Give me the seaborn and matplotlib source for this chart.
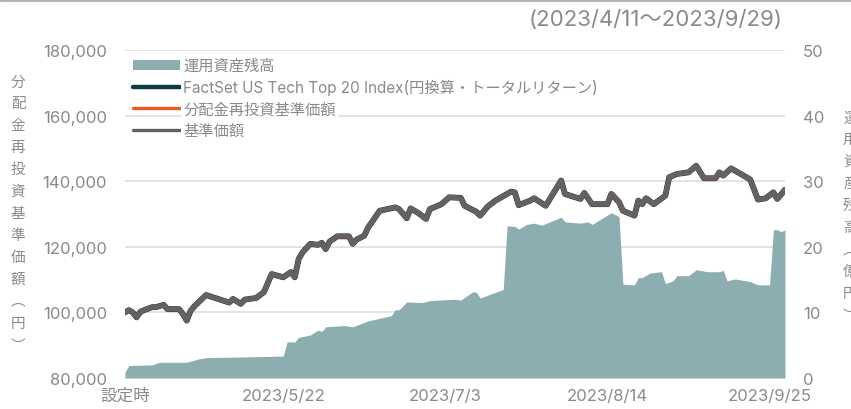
import pandas as pd
import matplotlib
matplotlib.use("Agg")
import matplotlib.pyplot as plt
from matplotlib.patches import Patch
from matplotlib.lines import Line2D
from matplotlib.ticker import FuncFormatter, MultipleLocator
import seaborn as sns

# ---- data ----
nav_dates = ["2023-04-11", "2023-04-12", "2023-04-13", "2023-04-14", "2023-04-15", "2023-04-16",
             "2023-04-18", "2023-04-19", "2023-04-21", "2023-04-22", "2023-04-25", "2023-04-26",
             "2023-04-27", "2023-04-28", "2023-04-29", "2023-05-02", "2023-05-08", "2023-05-09",
             "2023-05-11", "2023-05-12", "2023-05-15", "2023-05-17", "2023-05-19", "2023-05-22",
             "2023-05-24", "2023-05-25", "2023-05-26", "2023-05-27", "2023-05-29", "2023-05-31",
             "2023-06-01", "2023-06-02", "2023-06-03", "2023-06-05", "2023-06-08", "2023-06-09",
             "2023-06-10", "2023-06-12", "2023-06-13", "2023-06-16", "2023-06-20", "2023-06-21",
             "2023-06-23", "2023-06-24", "2023-06-26", "2023-06-28", "2023-06-29", "2023-07-02",
             "2023-07-04", "2023-07-07", "2023-07-08", "2023-07-11", "2023-07-12", "2023-07-14",
             "2023-07-16", "2023-07-20", "2023-07-21", "2023-07-22", "2023-07-25", "2023-07-26",
             "2023-07-29", "2023-08-02", "2023-08-03", "2023-08-07", "2023-08-08", "2023-08-10",
             "2023-08-14", "2023-08-15", "2023-08-17", "2023-08-18", "2023-08-21", "2023-08-22",
             "2023-08-23", "2023-08-24", "2023-08-26", "2023-08-29", "2023-08-30", "2023-09-01",
             "2023-09-04", "2023-09-06", "2023-09-08", "2023-09-11", "2023-09-12", "2023-09-13",
             "2023-09-15", "2023-09-18", "2023-09-20", "2023-09-22", "2023-09-24", "2023-09-26",
             "2023-09-27", "2023-09-29"]
nav = [100000, 100700, 100000, 98500, 100200, 100700,
       101600, 101600, 102300, 101000, 101000, 99500,
       97500, 100500, 101900, 105300, 103000, 104100,
       102600, 103900, 104400, 106200, 111700, 110700,
       112300, 110700, 116300, 118300, 120900, 120600,
       121200, 119300, 121600, 123200, 123200, 120900,
       122200, 123400, 125900, 131000, 132000, 131500,
       128700, 131700, 130300, 128500, 131500, 133000,
       135100, 134900, 132500, 130700, 129500, 132300,
       134100, 136800, 136600, 132700, 134100, 134800,
       132500, 140200, 136100, 134600, 136400, 133000,
       133000, 136100, 133600, 131000, 129500, 134100,
       133000, 134800, 133000, 135600, 141200, 142200,
       142700, 144700, 140900, 140900, 142700, 141700,
       143900, 141900, 140500, 134400, 134800, 136600,
       134600, 137400]
# no distributions yet, so reinvested NAV follows NAV; index overlaps it on screen
nav_reinvested = list(nav)
index_tr = list(nav)

aum_dates = ["2023-04-11", "2023-04-12", "2023-04-18", "2023-04-20", "2023-04-27", "2023-04-30",
             "2023-05-02", "2023-05-19", "2023-05-22", "2023-05-23", "2023-05-25", "2023-05-26",
             "2023-05-29", "2023-05-31", "2023-06-01", "2023-06-02", "2023-06-07", "2023-06-09",
             "2023-06-13", "2023-06-16", "2023-06-19", "2023-06-20", "2023-06-21", "2023-06-23",
             "2023-06-27", "2023-06-29", "2023-07-05", "2023-07-07", "2023-07-10", "2023-07-11",
             "2023-07-12", "2023-07-18", "2023-07-19", "2023-07-21", "2023-07-22", "2023-07-24",
             "2023-07-26", "2023-07-28", "2023-08-02", "2023-08-03", "2023-08-07", "2023-08-09",
             "2023-08-10", "2023-08-15", "2023-08-17", "2023-08-18", "2023-08-21", "2023-08-22",
             "2023-08-23", "2023-08-25", "2023-08-28", "2023-08-29", "2023-08-31", "2023-09-01",
             "2023-09-04", "2023-09-06", "2023-09-09", "2023-09-12", "2023-09-13", "2023-09-14",
             "2023-09-16", "2023-09-20", "2023-09-22", "2023-09-25", "2023-09-26", "2023-09-27",
             "2023-09-28", "2023-09-29"]
aum = [0.9, 1.9, 2.0, 2.4, 2.4, 2.9,
       3.1, 3.3, 3.35, 5.5, 5.5, 6.2,
       6.55, 7.3, 7.1, 7.8, 8.0, 7.8,
       8.7, 9.1, 9.5, 10.4, 10.4, 11.6,
       11.5, 11.8, 12.0, 11.9, 13.1, 13.1,
       12.2, 13.5, 23.2, 23.1, 22.7, 23.4,
       23.6, 23.3, 24.5, 23.8, 23.6, 23.8,
       23.4, 25.2, 24.6, 14.3, 14.2, 15.3,
       15.3, 16.0, 16.2, 14.4, 14.8, 15.6,
       15.6, 16.5, 16.2, 16.2, 16.4, 14.8,
       15.1, 14.7, 14.2, 14.2, 22.6, 22.6,
       22.3, 22.6]

tick_dates = ["2023-04-11", "2023-05-22", "2023-07-03", "2023-08-14", "2023-09-25"]
tick_labels = ["設定時", "2023/5/22", "2023/7/3", "2023/8/14", "2023/9/25"]

legend_labels = ["運用資産残高",
                 "FactSet US Tech Top 20 Index(円換算・トータルリターン)",
                 "分配金再投資基準価額",
                 "基準価額"]
period_text = "(2023/4/11～2023/9/29)"
left_label = "分配金再投資基準価額（円）"
right_label = "運用資産残高（億円）"

# ---- style ----
sns.set_style("white")
plt.rcParams["font.family"] = ["Inter", "Noto Sans CJK JP", "DejaVu Sans"]
text_col = "#8a8a8a"
area_col = "#8caeb0"
index_col = "#0d3b46"
reinv_col = "#f0582a"
nav_col = "#626262"


def vertical(s):
    # stack characters top to bottom, using vertical bracket forms
    s = s.replace("（", "\ufe35").replace("）", "\ufe36")
    return "\n".join(s)


line_df = pd.DataFrame({"date": pd.to_datetime(nav_dates), "nav": nav,
                        "reinv": nav_reinvested, "index": index_tr})
aum_df = pd.DataFrame({"date": pd.to_datetime(aum_dates), "aum": aum})

fig = plt.figure(figsize=(8.51, 4.10), dpi=100)
ax = fig.add_axes([125 / 851, 1 - 379 / 410, 660 / 851, 328 / 410])
ax2 = ax.twinx()

# area on the right axis, behind the lines
ax2.fill_between(aum_df["date"], 0, aum_df["aum"], color=area_col, lw=0, zorder=2)
ax2.set_ylim(0, 50)
ax2.yaxis.set_major_locator(MultipleLocator(10))
ax2.grid(True, axis="y", color="#dedede", lw=1.2, zorder=0)
ax2.set_axisbelow(True)

sns.lineplot(data=line_df, x="date", y="index", ax=ax, color=index_col, lw=4.2)
sns.lineplot(data=line_df, x="date", y="reinv", ax=ax, color=reinv_col, lw=3.2)
sns.lineplot(data=line_df, x="date", y="nav", ax=ax, color=nav_col, lw=3.0)

ax.set_zorder(ax2.get_zorder() + 1)
ax.patch.set_visible(False)

ax.set_xlim(pd.Timestamp("2023-04-11"), pd.Timestamp("2023-09-29"))
ax.set_ylim(80000, 180000)
ax.yaxis.set_major_locator(MultipleLocator(20000))
ax.yaxis.set_major_formatter(FuncFormatter(lambda v, p: f"{int(v):,}"))
ax.set_xticks(pd.to_datetime(tick_dates))
ax.set_xticklabels(tick_labels)
ax.set_xlabel("")
ax.set_ylabel("")
ax.grid(False)

for a in (ax, ax2):
    for s in a.spines.values():
        s.set_visible(False)

ax.tick_params(axis="y", length=0, pad=13, labelsize=12, labelcolor=text_col)
ax.tick_params(axis="x", direction="in", length=3, width=1, color="white",
               pad=7, labelsize=12, labelcolor=text_col)
ax2.tick_params(axis="y", length=0, pad=13, labelsize=12, labelcolor=text_col)

# legend
handles = [Patch(facecolor=area_col, edgecolor="none"),
           Line2D([], [], color=index_col, lw=3.2),
           Line2D([], [], color=reinv_col, lw=2.4),
           Line2D([], [], color=nav_col, lw=2.4)]
leg = ax.legend(handles, legend_labels, loc="upper left", bbox_to_anchor=(0.012, 0.975),
                frameon=False, fontsize=11, labelcolor=text_col, handlelength=3.1,
                handleheight=0.6, handletextpad=0.2, labelspacing=0.4, borderaxespad=0,
                borderpad=0)
for t in leg.get_texts():
    t.set_bbox(dict(facecolor="white", edgecolor="none", pad=1.5))

# stacked vertical axis titles
fig.text(18 / 851, 1 - 214 / 410, vertical(left_label), ha="center", va="center",
         fontsize=10.5, color=text_col, linespacing=1.72)
fig.text(843 / 851, 1 - 217 / 410, vertical(right_label), ha="left", va="center",
         fontsize=10.5, color=text_col, linespacing=1.72)

fig.text(783 / 851, 1 - 20 / 410, period_text, ha="right", va="center",
         fontsize=16, color=text_col)
fig.add_artist(Line2D([0, 1], [1 - 1 / 410, 1 - 1 / 410], transform=fig.transFigure,
                      color="#b0b0b0", lw=2))

fig.savefig("out.png", dpi=100)
